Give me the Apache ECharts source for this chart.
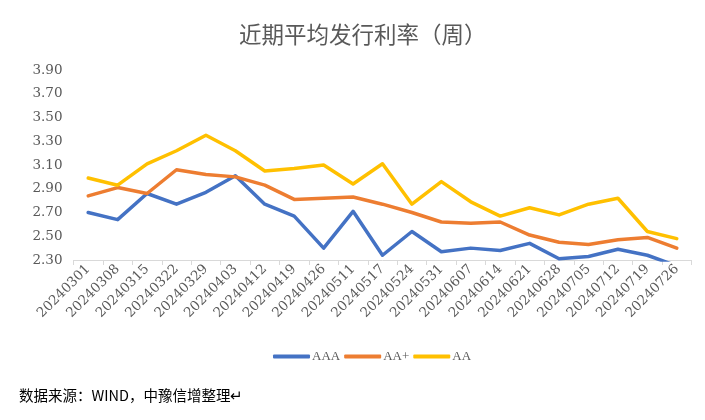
<!DOCTYPE html>
<html><head><meta charset="utf-8">
<script src="https://cdn.jsdelivr.net/npm/echarts@6/dist/echarts.min.js"></script>
<style>html,body{margin:0;padding:0;background:#fff}#c{width:705px;height:420px}</style>
</head><body><div id="c"></div>
<script>
var categories = ['20240301','20240308','20240315','20240322','20240329','20240403','20240412','20240419','20240426','20240511','20240517','20240524','20240531','20240607','20240614','20240621','20240628','20240705','20240712','20240719','20240726'];
var seriesNames = ['AAA','AA+','AA'];
var aaa = [2.70,2.64,2.86,2.77,2.87,3.01,2.77,2.67,2.40,2.71,2.34,2.54,2.37,2.40,2.38,2.44,2.31,2.33,2.39,2.34,2.25];
var aaPlus = [2.84,2.91,2.86,3.06,3.02,3.00,2.93,2.81,2.82,2.83,2.77,2.70,2.62,2.61,2.62,2.51,2.45,2.43,2.47,2.49,2.40];
var aa = [2.99,2.93,3.11,3.22,3.35,3.22,3.05,3.07,3.10,2.94,3.11,2.77,2.96,2.79,2.67,2.74,2.68,2.77,2.82,2.54,2.48];
var colors = ['#4472C4','#ED7D31','#FFC000'];
var titleText = '近期平均发行利率（周）';
var sourceText = '数据来源：WIND，中豫信增整理';

var serifFont = '"DejaVu Serif","Liberation Serif","Noto Sans CJK SC",serif';
var cjkFont = '"Noto Sans CJK SC",sans-serif';
var chart = echarts.init(document.getElementById('c'), null, {renderer:'canvas'});
var data = [aaa, aaPlus, aa];
chart.setOption({
  animation: false,
  color: colors,
  title: {
    text: titleText, left: 234, top: 18,
    textStyle: {fontFamily: cjkFont, fontSize: 22.5, fontWeight: 'normal', color: '#595959'}
  },
  grid: {left: 73.5, right: 13.5, top: 70, bottom: 160, containLabel: false},
  legend: {
    data: seriesNames, top: 345, left: 268,
    icon: 'roundRect', itemWidth: 37, itemHeight: 4, itemGap: 4,
    textStyle: {fontFamily: '"Liberation Serif",serif', fontSize: 13, color: '#595959', padding: [0,0,0,-3]}
  },
  xAxis: {
    type: 'category', data: categories, boundaryGap: true,
    axisLine: {lineStyle: {color: '#D9D9D9', width: 1}},
    axisTick: {show: true, length: 5, lineStyle: {color: '#D9D9D9'}},
    axisLabel: {rotate: 45, interval: 0, margin: 7, fontFamily: serifFont, fontSize: 13.5, color: '#595959'}
  },
  yAxis: {
    type: 'value', min: 2.3, max: 3.9, interval: 0.2,
    axisLine: {show: false}, axisTick: {show: false}, splitLine: {show: false},
    axisLabel: {margin: 11, fontFamily: serifFont, fontSize: 13.5, color: '#595959',
      formatter: function(v){ return v.toFixed(2); }}
  },
  series: seriesNames.map(function(n, i){
    return {name: n, type: 'line', data: data[i], symbol: 'none', clip: true,
      lineStyle: {width: 3.5, color: colors[i], cap: 'round', join: 'round'}};
  }),
  graphic: [{
    type: 'text', left: 19, top: 388,
    style: {text: sourceText + '↵', font: '14.5px "Noto Sans CJK SC", sans-serif', fill: '#000'}
  }]
});
</script></body></html>
